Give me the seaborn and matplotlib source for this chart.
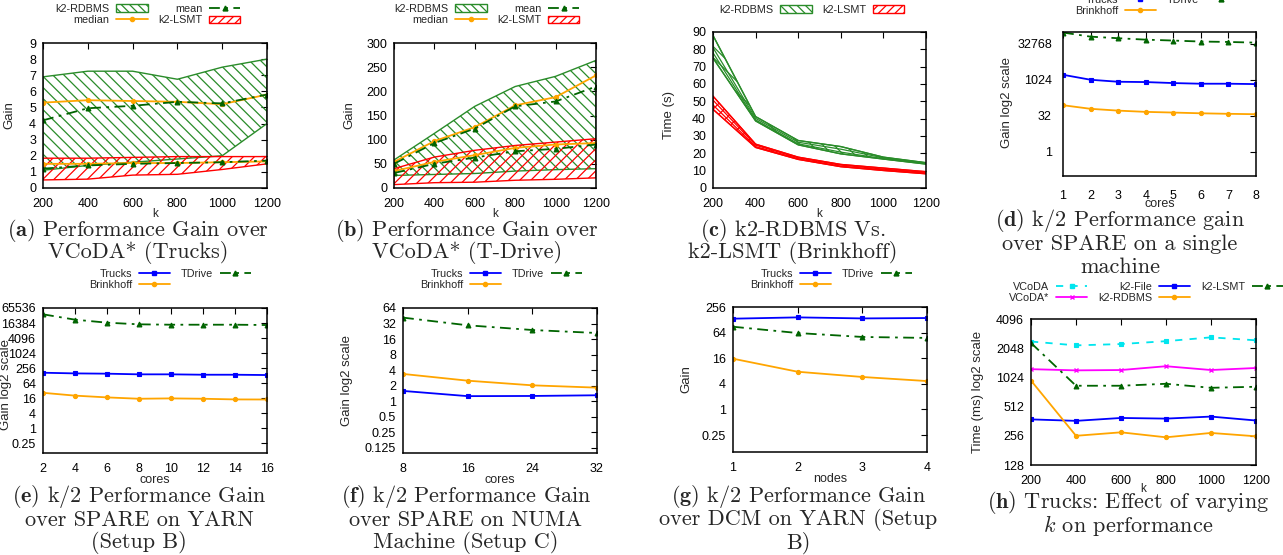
import matplotlib
matplotlib.use("Agg")
import matplotlib.pyplot as plt
from matplotlib.patches import Patch
from matplotlib.lines import Line2D
import seaborn as sns

sns.set_style("white")
plt.rcParams["font.family"] = ["Liberation Sans", "DejaVu Sans"]
plt.rcParams["mathtext.fontset"] = "cm"
plt.rcParams["hatch.linewidth"] = 0.9

W, H = 1283, 555

k_vals = [200, 400, 600, 800, 1000, 1200]

# (a) gain over VCoDA* on Trucks
a_rdbms_max = [6.9, 7.25, 7.25, 6.75, 7.5, 8.0]
a_rdbms_min = [1.1, 1.4, 1.6, 1.8, 2.0, 4.0]
a_rdbms_mean = [4.2, 4.95, 5.1, 5.35, 5.25, 5.8]
a_rdbms_median = [5.3, 5.45, 5.4, 5.35, 5.2, 5.8]
a_lsmt_max = [1.85, 1.85, 1.9, 1.95, 1.95, 1.95]
a_lsmt_min = [0.5, 0.55, 0.8, 0.85, 1.15, 1.5]
a_lsmt_mean = [1.2, 1.4, 1.5, 1.55, 1.6, 1.7]
a_lsmt_median = [1.5, 1.5, 1.55, 1.55, 1.6, 1.65]

# (b) gain over VCoDA* on T-Drive
b_rdbms_max = [58, 113, 169, 210, 231, 264]
b_rdbms_min = [26, 28, 30, 35, 38, 40]
b_rdbms_mean = [50, 93, 123, 169, 179, 210]
b_rdbms_median = [54, 97, 126, 171, 188, 233]
b_lsmt_max = [40, 64, 78, 88, 95, 102]
b_lsmt_min = [7, 11, 12, 16, 18, 21]
b_lsmt_mean = [31, 50, 63, 76, 81, 90]
b_lsmt_median = [35, 54, 68, 83, 90, 93]

# (c) time (s) on Brinkhoff
c_rdbms_max = [88, 41.2, 27.4, 23.9, 17.8, 14.6]
c_rdbms_hi = [81, 40.2, 26.4, 22.4, 17.4, 14.4]
c_rdbms_lo = [78, 39.3, 25.5, 20.7, 16.9, 14.2]
c_rdbms_min = [75, 38.7, 24.9, 19.7, 16.7, 13.8]
c_lsmt_max = [53, 25.3, 17.8, 13.6, 11.5, 9.4]
c_lsmt_hi = [50.7, 24.7, 17.4, 13.2, 10.9, 9.0]
c_lsmt_lo = [47.9, 23.9, 16.9, 12.6, 10.5, 8.6]
c_lsmt_min = [45.4, 23.4, 16.5, 12.3, 10.1, 8.2]

# (d) single machine
cores_d = [1, 2, 3, 4, 5, 6, 7, 8]
d_trucks = [1650, 1024, 845, 820, 745, 700, 700, 675]
d_tdrive = [95000, 64000, 55000, 48000, 44000, 40000, 38500, 36000]
d_brink = [89, 63, 53, 47, 44, 41, 39, 37.5]

# (e) YARN
cores_e = [2, 4, 6, 8, 10, 12, 14, 16]
e_trucks = [166, 156, 152, 143, 143, 138, 138, 134]
e_tdrive = [36600, 22300, 16900, 14500, 14000, 14000, 14000, 13600]
e_brink = [26, 20, 17, 15, 15.5, 15, 14.1, 14]

# (f) NUMA
cores_f = [8, 16, 24, 32]
f_trucks = [1.59, 1.26, 1.27, 1.31]
f_tdrive = [41.7, 29.6, 24, 21]
f_brink = [3.39, 2.51, 2.04, 1.84]

# (g) DCM on YARN
nodes_g = [1, 2, 3, 4]
g_trucks = [136, 146, 138, 141]
g_tdrive = [88, 62.6, 50.6, 48]
g_brink = [15.6, 7.7, 5.8, 4.65]

# (h) Trucks, varying k
h_vcoda = [2400, 2190, 2260, 2420, 2650, 2470]
h_vcoda_star = [1245, 1210, 1220, 1335, 1220, 1280]
h_k2_file = [378, 365, 391, 385, 404, 368]
h_k2_rdbms = [950, 256, 278, 247, 274, 253]
h_k2_lsmt = [2320, 840, 840, 880, 800, 820]

captions = [
    (138, 230, [r"$\mathbf{(a)}$ Performance Gain over", "VCoDA* (Trucks)"]),
    (467, 230, [r"$\mathbf{(b)}$ Performance Gain over", "VCoDA* (T-Drive)"]),
    (793, 230, [r"$\mathbf{(c)}$ k2-RDBMS Vs.", "k2-LSMT (Brinkhoff)"]),
    (1120, 221, [r"$\mathbf{(d)}$ k/2 Performance gain", "over SPARE on a single", "machine"]),
    (139, 497, [r"$\mathbf{(e)}$ k/2 Performance Gain", "over SPARE on YARN", "(Setup B)"]),
    (466, 497, [r"$\mathbf{(f)}$ k/2 Performance Gain", "over SPARE on NUMA", "Machine (Setup C)"]),
    (798, 497, [r"$\mathbf{(g)}$ k/2 Performance Gain", "over DCM on YARN (Setup", "B)"]),
    (1128, 503, [r"$\mathbf{(h)}$ Trucks: Effect of varying", r"$k$ on performance"]),
]

GREEN = "#2a8c2a"
DKGREEN = "#006400"
ORANGE = "#ffa500"
RED = "#ff0000"
BLUE = "#0000ff"
CYAN = "#00e5ee"
MAGENTA = "#ff00ff"
DASHDOT = (0, (6, 3, 1.5, 3))

fig = plt.figure(figsize=(W / 100, H / 100), dpi=100)


def make_ax(l, r, t, b, xpad=7, ypad=5):
    ax = fig.add_axes([l / W, 1 - b / H, (r - l) / W, (b - t) / H])
    for s in ax.spines.values():
        s.set_linewidth(1.1)
        s.set_color("black")
    ax.tick_params(direction="in", top=True, right=True, length=4, width=0.8,
                   labelsize=9, colors="black")
    ax.tick_params(axis="x", pad=xpad)
    ax.tick_params(axis="y", pad=ypad)
    return ax


def line(ax, x, y, color, marker, ls="-", ms=3.5, mew=0.8, lw=1.3):
    sns.lineplot(x=x, y=y, ax=ax, color=color, marker=marker, linestyle=ls,
                 linewidth=lw, markersize=ms, markeredgecolor=color,
                 markeredgewidth=mew, legend=False)


def band(ax, x, lo, hi, color, hatch):
    ax.fill_between(x, lo, hi, facecolor="none", edgecolor=color, hatch=hatch,
                    linewidth=1.0)


def handle(color, marker, ls="-", ms=3.5):
    return Line2D([], [], color=color, marker=marker, linestyle=ls, lw=1.3,
                  markersize=ms, markeredgecolor=color)


def legend(ax, handles, labels, cx, top, ncol):
    ax.legend(handles, labels, loc="upper center", ncol=ncol,
              bbox_to_anchor=(cx / W, 1 - top / H), bbox_transform=fig.transFigure,
              frameon=False, markerfirst=False, fontsize=7.8, handlelength=2.9,
              handletextpad=0.6, columnspacing=1.0, labelspacing=0.1,
              borderpad=0, borderaxespad=0)


def log2_axis(ax, ticks, labels, lo, hi):
    ax.set_yscale("log", base=2)
    ax.set_ylim(lo, hi)
    ax.set_yticks(ticks, labels)
    ax.minorticks_off()


rdbms_patch = Patch(facecolor="white", edgecolor=GREEN, hatch="\\\\\\\\")
lsmt_patch = Patch(facecolor="white", edgecolor=RED, hatch="////")

# (a)
ax = make_ax(43, 267, 43, 188)
band(ax, k_vals, a_rdbms_min, a_rdbms_max, GREEN, "\\\\\\")
band(ax, k_vals, a_lsmt_min, a_lsmt_max, RED, "///")
line(ax, k_vals, a_rdbms_median, ORANGE, "o", ms=3)
line(ax, k_vals, a_rdbms_mean, DKGREEN, "^", ls=DASHDOT)
line(ax, k_vals, a_lsmt_median, ORANGE, "o", ms=3)
line(ax, k_vals, a_lsmt_mean, DKGREEN, "^", ls=DASHDOT)
ax.set_xlim(200, 1200)
ax.set_ylim(0, 9)
ax.set_xticks(k_vals)
ax.set_yticks(range(0, 10))
ax.set_xlabel("k", fontsize=8.5)
ax.set_ylabel("Gain", fontsize=9.5)
ax.xaxis.set_label_coords(0.5, -0.14)
ax.yaxis.set_label_coords(-0.125, 0.5)
legend(ax, [rdbms_patch, handle(ORANGE, "o", ms=3), handle(DKGREEN, "^", DASHDOT), lsmt_patch],
       ["k2-RDBMS", "median", "mean", "k2-LSMT"], 148, 4, 2)

# (b)
ax = make_ax(394, 596, 43, 188)
band(ax, k_vals, b_rdbms_min, b_rdbms_max, GREEN, "\\\\\\")
band(ax, k_vals, b_lsmt_min, b_lsmt_max, RED, "///")
line(ax, k_vals, b_rdbms_median, ORANGE, "o", ms=3)
line(ax, k_vals, b_rdbms_mean, DKGREEN, "^", ls=DASHDOT)
line(ax, k_vals, b_lsmt_median, ORANGE, "o", ms=3)
line(ax, k_vals, b_lsmt_mean, DKGREEN, "^", ls=DASHDOT)
ax.set_xlim(200, 1200)
ax.set_ylim(0, 300)
ax.set_xticks(k_vals)
ax.set_yticks(range(0, 301, 50))
ax.set_xlabel("k", fontsize=8.5)
ax.set_ylabel("Gain", fontsize=9.5)
ax.xaxis.set_label_coords(0.5, -0.14)
ax.yaxis.set_label_coords(-0.193, 0.5)
legend(ax, [rdbms_patch, handle(ORANGE, "o", ms=3), handle(DKGREEN, "^", DASHDOT), lsmt_patch],
       ["k2-RDBMS", "median", "mean", "k2-LSMT"], 487, 4, 2)

# (c)
ax = make_ax(713, 926, 32, 188)
band(ax, k_vals, c_rdbms_min, c_rdbms_max, GREEN, "\\\\\\")
band(ax, k_vals, c_lsmt_min, c_lsmt_max, RED, "///")
for ys in [c_rdbms_max, c_rdbms_hi, c_rdbms_lo, c_rdbms_min]:
    line(ax, k_vals, ys, GREEN, None, lw=0.9)
for ys in [c_lsmt_max, c_lsmt_hi, c_lsmt_lo, c_lsmt_min]:
    line(ax, k_vals, ys, RED, None, lw=0.9)
ax.set_xlim(200, 1200)
ax.set_ylim(0, 90)
ax.set_xticks(k_vals)
ax.set_yticks(range(0, 91, 10))
ax.set_xlabel("k", fontsize=8.5)
ax.set_ylabel("Time (s)", fontsize=9.5)
ax.xaxis.set_label_coords(0.5, -0.13)
ax.yaxis.set_label_coords(-0.178, 0.47)
legend(ax, [rdbms_patch, lsmt_patch], ["k2-RDBMS", "k2-LSMT"], 812, 5, 2)

trucks_h = handle(BLUE, "s", ms=3)
tdrive_h = handle(DKGREEN, "^", DASHDOT)
brink_h = handle(ORANGE, "o", ms=3)

# (d)
ax = make_ax(1063, 1256, 32, 176, xpad=10, ypad=8)
line(ax, cores_d, d_trucks, BLUE, "s", ms=3)
line(ax, cores_d, d_tdrive, DKGREEN, "^", ls=DASHDOT)
line(ax, cores_d, d_brink, ORANGE, "o", ms=3)
log2_axis(ax, [1, 32, 1024, 32768], ["1", "32", "1024", "32768"], 0.1, 100000)
ax.set_xlim(1, 8)
ax.set_xticks(cores_d)
ax.set_xlabel("cores", fontsize=9)
ax.set_ylabel("Gain log2 scale", fontsize=9.5)
ax.xaxis.set_label_coords(0.5, -0.155)
ax.yaxis.set_label_coords(-0.26, 0.51)
legend(ax, [trucks_h, brink_h, tdrive_h], ["Trucks", "Brinkhoff", "TDrive"], 1156, -5, 2)

# (e)
ax = make_ax(43, 267, 308, 453, xpad=7)
line(ax, cores_e, e_trucks, BLUE, "s", ms=3)
line(ax, cores_e, e_tdrive, DKGREEN, "^", ls=DASHDOT)
line(ax, cores_e, e_brink, ORANGE, "o", ms=3)
e_ticks = [0.25, 1, 4, 16, 64, 256, 1024, 4096, 16384, 65536]
log2_axis(ax, e_ticks, ["0.25", "1", "4", "16", "64", "256", "1024", "4096", "16384", "65536"],
          0.1, 65536)
ax.set_xlim(2, 16)
ax.set_xticks(cores_e)
ax.set_xlabel("cores", fontsize=9)
ax.set_ylabel("Gain log2 scale", fontsize=9.5)
ax.xaxis.set_label_coords(0.5, -0.145)
ax.yaxis.set_label_coords(-0.14, 0.47)
legend(ax, [trucks_h, brink_h, tdrive_h], ["Trucks", "Brinkhoff", "TDrive"], 170, 269, 2)

# (f)
ax = make_ax(403, 597, 308, 453, xpad=7)
line(ax, cores_f, f_trucks, BLUE, "s", ms=3)
line(ax, cores_f, f_tdrive, DKGREEN, "^", ls=DASHDOT)
line(ax, cores_f, f_brink, ORANGE, "o", ms=3)
f_ticks = [0.125, 0.25, 0.5, 1, 2, 4, 8, 16, 32, 64]
log2_axis(ax, f_ticks, ["0.125", "0.25", "0.5", "1", "2", "4", "8", "16", "32", "64"], 0.1, 64)
ax.set_xlim(8, 32)
ax.set_xticks(cores_f)
ax.set_xlabel("cores", fontsize=9)
ax.set_ylabel("Gain log2 scale", fontsize=9.5)
ax.xaxis.set_label_coords(0.5, -0.145)
ax.yaxis.set_label_coords(-0.26, 0.5)
legend(ax, [trucks_h, brink_h, tdrive_h], ["Trucks", "Brinkhoff", "TDrive"], 501, 269, 2)

# (g)
ax = make_ax(733, 927, 307, 452, xpad=7)
line(ax, nodes_g, g_trucks, BLUE, "s", ms=3)
line(ax, nodes_g, g_tdrive, DKGREEN, "^", ls=DASHDOT)
line(ax, nodes_g, g_brink, ORANGE, "o", ms=3)
log2_axis(ax, [0.25, 1, 4, 16, 64, 256], ["0.25", "1", "4", "16", "64", "256"], 0.1, 256)
ax.set_xlim(1, 4)
ax.set_xticks(nodes_g)
ax.set_xlabel("nodes", fontsize=9)
ax.set_ylabel("Gain", fontsize=9.5)
ax.xaxis.set_label_coords(0.5, -0.145)
ax.yaxis.set_label_coords(-0.21, 0.5)
legend(ax, [trucks_h, brink_h, tdrive_h], ["Trucks", "Brinkhoff", "TDrive"], 831, 269, 2)

# (h)
ax = make_ax(1031, 1256, 319, 465, xpad=7)
line(ax, k_vals, h_vcoda, CYAN, "s", ls=(0, (4, 4)), ms=2.5)
line(ax, k_vals, h_vcoda_star, MAGENTA, "x", ms=3.5, mew=1)
line(ax, k_vals, h_k2_file, BLUE, "s", ms=3)
line(ax, k_vals, h_k2_rdbms, ORANGE, "o", ms=3)
line(ax, k_vals, h_k2_lsmt, DKGREEN, "^", ls=DASHDOT)
log2_axis(ax, [128, 256, 512, 1024, 2048, 4096],
          ["128", "256", "512", "1024", "2048", "4096"], 128, 4096)
ax.set_xlim(200, 1200)
ax.set_xticks(k_vals)
ax.set_xlabel("k", fontsize=8.5)
ax.set_ylabel("Time (ms) log2 scale", fontsize=9.5)
ax.xaxis.set_label_coords(0.5, -0.125)
ax.yaxis.set_label_coords(-0.21, 0.5)
legend(ax, [handle(CYAN, "s", (0, (4, 4)), 2.5), handle(MAGENTA, "x"), handle(BLUE, "s", ms=3),
            handle(ORANGE, "o", ms=3), tdrive_h],
       ["VCoDA", "VCoDA*", "k2-File", "k2-RDBMS", "k2-LSMT"], 1146, 282, 3)

for cx, y1, lines in captions:
    for i, txt in enumerate(lines):
        fig.text(cx / W, 1 - (y1 + i * 23) / H, txt, ha="center", va="center",
                 fontsize=16, family="cmr10")

fig.savefig("out.png", dpi=100)
